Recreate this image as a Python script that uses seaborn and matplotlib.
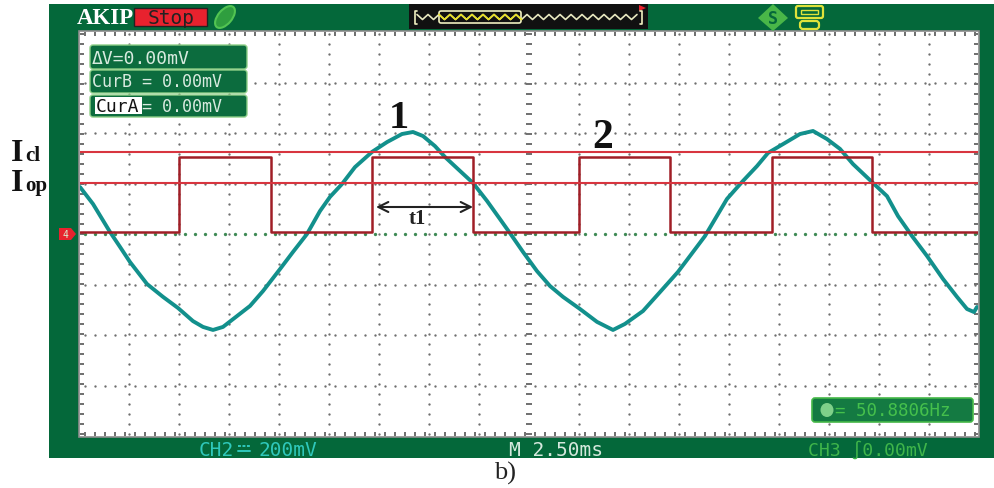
import numpy as np
import pandas as pd
import matplotlib
matplotlib.use('Agg')
import matplotlib.pyplot as plt
from matplotlib.patches import Rectangle, FancyBboxPatch, Polygon, Ellipse
import seaborn as sns

# Scope traces (time in ms, level in mV)
trace_t = [0, 0.65, 1.5, 2, 2.5, 3.35, 4.15, 4.9, 5.65, 6.15, 6.65, 7.15, 7.85, 8.5, 9.15, 10,
           10.65, 11.35, 12, 12.5, 13.1, 13.75, 14.6, 15.35, 16.1, 16.65, 17.15, 17.75, 18.25,
           18.9, 19.65, 20.35, 21, 21.6, 22.15, 22.85, 23.5, 24.15, 25, 25.85, 26.65, 27.25,
           28.15, 29, 29.9, 30.5, 31.25, 32.35, 33.1, 33.85, 34.4, 35.15, 36, 36.65, 37.35,
           38, 38.65, 39.65, 40.35, 40.9, 41.6, 42.35, 43.15, 43.85, 44.35, 44.7, 44.85]
trace_v = [186, 119, 8, -51, -111, -198, -249, -293, -345, -368, -380, -368, -325, -285, -226, -139,
           -71, 0, 91, 147, 198, 265, 325, 364, 396, 404, 388, 348, 305,
           257, 202, 131, 59, -8, -71, -147, -206, -249, -297, -348, -380, -356,
           -305, -230, -150, -87, -8, 139, 206, 269, 321, 356, 396, 408, 376,
           337, 277, 202, 150, 71, -8, -87, -178, -249, -297, -309, -289]

pulse_t = [0, 4.95, 4.95, 9.55, 9.55, 14.6, 14.6, 19.65, 19.65, 24.95, 24.95, 29.5, 29.5,
           34.6, 34.6, 39.6, 39.6, 44.9]
pulse_v = [6, 6, 305, 305, 6, 6, 305, 305, 6, 6, 305, 305, 6, 6, 305, 305, 6, 6]

level_close = 325
level_open = 201

readouts = ['ΔV=0.00mV', 'CurB = 0.00mV', '= 0.00mV']
freq_text = '= 50.8806Hz'
ch2_name = 'CH2'
ch2_scale = '200mV'
time_text = 'M 2.50ms'
ch3_text = 'CH3 ∫0.00mV'

GREEN = '#04683a'
TEAL = '#12908c'
RED_LINE = '#d8353f'
RED_WAVE = '#a01e26'
GRID = '#6f6f6f'
MONO = 'DejaVu Sans Mono'
SERIF = 'Liberation Serif'

sns.set_style('white')
fig = plt.figure(figsize=(9.94, 4.89), dpi=100, facecolor='white')

# background layer, in pixels of the picture
bg = fig.add_axes([0, 0, 1, 1], zorder=0)
bg.set_xlim(0, 994)
bg.set_ylim(489, 0)
bg.axis('off')
bg.add_patch(Rectangle((48.5, 5), 945.5, 454, fc=GREEN, ec='none'))
bg.add_patch(Rectangle((79, 32), 900, 406, fc='white', ec='#8c8c8c', lw=1.2))

# scope screen
ax = fig.add_axes([80 / 994, 1 - 437 / 489, 898 / 994, 404 / 489], zorder=1)
ax.set_facecolor('white')
ax.set_xlim(0, 44.9)
ax.set_ylim(-800, 800)
for s in ax.spines.values():
    s.set_visible(False)

x_center = 22.45
x_lines = x_center + 2.5 * np.arange(-8, 9)
y_lines = 200 * np.arange(-3, 4)
x_fine = np.arange(0.25, 44.9, 0.5)
y_fine = 39.6 * np.arange(-20, 21)

ax.set_xticks(x_fine, minor=True)
ax.set_yticks(y_fine, minor=True)
ax.set_xticks([])
ax.set_yticks([])
ax.tick_params(which='minor', direction='in', length=3, width=1.4, color=GRID,
               top=True, bottom=True, left=True, right=True,
               labelbottom=False, labelleft=False)

for x in x_lines:
    if x != x_center:
        ax.plot([x] * len(y_fine), y_fine, ls='none', marker='o', ms=1.7, mec='none', mfc=GRID, zorder=1)
for y in y_lines:
    if y != 0:
        ax.plot(x_fine, [y] * len(x_fine), ls='none', marker='o', ms=1.7, mec='none', mfc=GRID, zorder=1)
ax.plot([x_center] * len(y_fine), y_fine, ls='none', marker='_', ms=5, mew=1.4, color=GRID, zorder=1)
ax.plot(x_fine, [0] * len(x_fine), ls='none', marker='o', ms=2.4, mec='none', mfc='#3f8a55', zorder=1)

trace_df = pd.DataFrame({'t': trace_t, 'v': trace_v})
pulse_df = pd.DataFrame({'t': pulse_t, 'v': pulse_v})
sns.lineplot(data=trace_df, x='t', y='v', sort=False, estimator=None, color=TEAL, lw=2.8, ax=ax, zorder=3)
sns.lineplot(data=pulse_df, x='t', y='v', sort=False, estimator=None, color=RED_WAVE, lw=1.8, ax=ax, zorder=4)
ax.axhline(level_close, color=RED_LINE, lw=1.5, zorder=5)
ax.axhline(level_open, color=RED_LINE, lw=1.5, zorder=5)
ax.set_xlabel('')
ax.set_ylabel('')

# overlay layer for the instrument chrome and the annotations
top = fig.add_axes([0, 0, 1, 1], zorder=2)
top.set_xlim(0, 994)
top.set_ylim(489, 0)
top.axis('off')
top.patch.set_alpha(0)

# header
top.text(77, 18, 'AKIP', family=SERIF, weight='bold', fontsize=16.5, color='white', va='center')
top.add_patch(Rectangle((134, 9), 73, 18, fc='#e8222e', ec='#222222', lw=1))
top.text(171, 18, 'Stop', family=MONO, fontsize=14, color='#222222', ha='center', va='center')
top.add_patch(Ellipse((225, 18), 14, 26, angle=40, fc='#2f9e3f', ec='#52c452', lw=1.5))

top.add_patch(Rectangle((409, 5), 239, 25, fc='#111111', ec='none'))
wig_x = np.arange(417, 642, 5.5)
wig_y = 18 + np.tile([-2.5, 2.5], len(wig_x))[:len(wig_x)]
top.plot(wig_x, wig_y, color='#e8e8c0', lw=1.2)
top.plot(wig_x[(wig_x > 438) & (wig_x < 522)], wig_y[(wig_x > 438) & (wig_x < 522)], color='#e8e020', lw=1.2)
top.add_patch(FancyBboxPatch((439, 12), 82, 12, boxstyle='round,pad=0,rounding_size=2', fc='none', ec='#f0f0c0', lw=1.2))
top.plot([417, 415, 415, 417], [12, 12, 25, 25], color='#f0f0c0', lw=1.2)
top.plot([640, 642, 642, 640], [12, 12, 25, 25], color='#f0f0c0', lw=1.2)
top.add_patch(Polygon([(639, 6), (646, 9), (639, 12)], fc='#e8222e', ec='none'))

top.add_patch(Polygon([(773, 5), (788, 19), (773, 32), (758, 19)], fc='#49b648', ec='none'))
top.text(773, 19, 'S', family=MONO, weight='bold', fontsize=12, color=GREEN, ha='center', va='center')
top.add_patch(FancyBboxPatch((796, 7), 27, 12, boxstyle='round,pad=0,rounding_size=2', fc='none', ec='#dfe23a', lw=1.6))
top.add_patch(Rectangle((801, 11), 17, 4, fc='none', ec='#dfe23a', lw=1))
top.add_patch(FancyBboxPatch((800, 22), 19, 8, boxstyle='round,pad=0,rounding_size=3', fc='none', ec='#dfe23a', lw=1.6))

# readout boxes
for y0, y1 in [(46, 70), (71, 94), (96, 118)]:
    top.add_patch(FancyBboxPatch((90, y0), 157, y1 - y0, boxstyle='round,pad=0,rounding_size=3',
                                 fc='#0c6c3e', ec='#8ecf87', lw=1))
top.text(92, 59, readouts[0], family=MONO, fontsize=13, color='#d8eadf', va='center')
top.text(92, 82, readouts[1], family=MONO, fontsize=12, color='#d8eadf', va='center')
top.add_patch(Rectangle((95, 98), 47, 17, fc='white', ec='none'))
top.text(95.5, 107, 'CurA', family=MONO, fontsize=13, color='#111111', va='center')
top.text(142, 107, readouts[2], family=MONO, fontsize=12, color='#d8eadf', va='center')

top.add_patch(FancyBboxPatch((812, 399), 161, 24, boxstyle='round,pad=0,rounding_size=3',
                             fc='#147a42', ec='#45b848', lw=1.2))
top.add_patch(Ellipse((827, 411), 13, 14, fc='#7fd08a', ec='none'))
top.text(835, 411, freq_text, family=MONO, fontsize=12.6, color='#45c04c', va='center')

# channel marker
top.add_patch(Polygon([(59, 229), (71, 229), (76, 235), (71, 241), (59, 241)], fc='#e8222e', ec='none'))
top.text(65, 235, '4', family=MONO, fontsize=7, color='#d8f0d0', ha='center', va='center')

# footer, the DC coupling sign is in no installed font so it is two short strokes
top.text(199, 450, ch2_name, family=MONO, fontsize=14, color='#2fc8bb', va='center')
top.plot([238, 250], [447, 447], color='#2fc8bb', lw=1.4, ls=(0, (1.5, 0.8)))
top.plot([238, 250], [452, 452], color='#2fc8bb', lw=1.4)
top.text(258, 450, ch2_scale, family=MONO, fontsize=14, color='#2fc8bb', va='center')
top.text(509, 450, time_text, family=MONO, fontsize=14, color='#d5e8dd', va='center')
top.text(808, 450, ch3_text, family=MONO, fontsize=13.1, color='#3fb54a', va='center')

# annotations
top.text(11, 161, 'I', family=SERIF, weight='bold', fontsize=23, color='#111111', va='baseline')
top.text(25, 161, 'cl', family=SERIF, weight='bold', fontsize=15, color='#111111', va='baseline')
top.text(11, 191, 'I', family=SERIF, weight='bold', fontsize=23, color='#111111', va='baseline')
top.text(25, 191, 'op', family=SERIF, weight='bold', fontsize=15, color='#111111', va='baseline')
top.text(399, 118, '1', family=SERIF, weight='bold', fontsize=29, color='#111111', ha='center', va='center')
top.text(603, 138, '2', family=SERIF, weight='bold', fontsize=30, color='#111111', ha='center', va='center')
top.annotate('', xy=(376, 208), xytext=(473, 208),
             arrowprops=dict(arrowstyle='<->', color='#222222', lw=1.5, mutation_scale=18, shrinkA=0, shrinkB=0))
top.text(417, 219, 't1', family=SERIF, weight='bold', fontsize=15, color='#222222', ha='center', va='center')
top.text(505, 473, 'b)', family=SERIF, fontsize=19, color='#222222', ha='center', va='center')

fig.savefig('out.png', dpi=100)
